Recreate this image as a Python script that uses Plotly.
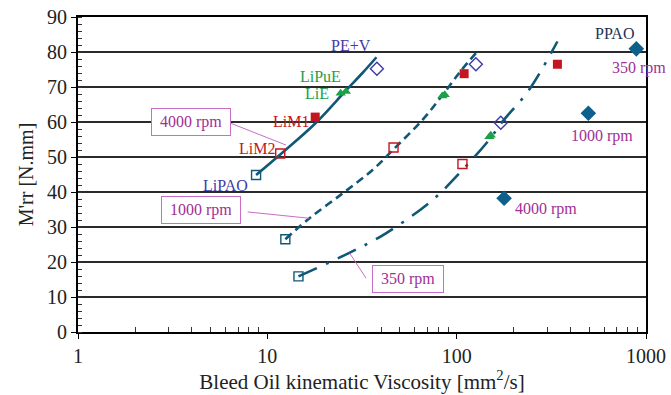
import math
import plotly.graph_objects as go

# ---- data ----
# curves: (viscosity, M'rr) along each fitted line
c4000_x = [8.72, 12.04, 18.07, 26.0, 31.8, 37.7]
c4000_y = [44.85, 51.3, 59.8, 69.0, 74.0, 78.5]
c1000_x = [12.45, 16.65, 24.97, 35.95, 47.8, 66.0, 84.2, 103.1, 126.3]
c1000_y = [26.5, 32.45, 39.6, 46.3, 52.9, 60.6, 67.7, 74.0, 79.7]
c350_x = [14.6, 27.1, 42.3, 74.5, 107.3, 148.4, 174.4, 241.3, 340.4]
c350_y = [15.9, 22.6, 28.2, 37.7, 46.3, 54.9, 60.1, 69.2, 83.0]

# measured points per oil: order 4000, 1000, 350 rpm
lipao_x = [8.72, 12.45, 14.6];  lipao_y = [44.85, 26.5, 15.9]
lim2_x = [11.7, 46.4, 107.3];   lim2_y = [51.0, 52.7, 48.0]
lim1_x = [17.9, 109.5, 340.5];  lim1_y = [61.4, 73.8, 76.5]
lie_x = [24.4, 84.0, 149.0];    lie_y = [68.2, 67.4, 55.8]
lipue_x = [26.0, 86.5, 151.5];  lipue_y = [68.7, 67.8, 56.2]
pev_x = [37.9, 126.3, 171.0];   pev_y = [75.2, 76.5, 59.8]
ppao_x = [178.0, 496.0, 889.0]; ppao_y = [38.2, 62.5, 80.9]

x_ticks = [1, 10, 100, 1000]
x_minor = [m * d for d in (1, 10, 100) for m in range(2, 10)]

TEAL = "rgb(16,88,118)"
DIAM = "rgb(14,96,140)"
RED = "rgb(196,22,32)"
GREEN = "rgb(28,160,72)"
PURP = "rgb(62,58,168)"
MAG = "rgb(160,48,150)"
MAGBOX = "rgb(200,110,200)"
FONT = "Liberation Serif"

fig = go.Figure()
fig.add_trace(go.Scatter(x=c4000_x, y=c4000_y, mode="lines", line=dict(color=TEAL, width=2.6, shape="spline")))
fig.add_trace(go.Scatter(x=c1000_x, y=c1000_y, mode="lines", line=dict(color=TEAL, width=2.6, shape="spline", dash="8px,5px")))
fig.add_trace(go.Scatter(x=c350_x, y=c350_y, mode="lines", line=dict(color=TEAL, width=2.6, shape="spline", dash="20px,10px,3px,10px")))

def pts(x, y, symbol, color, size, lw=1.4):
    fig.add_trace(go.Scatter(x=x, y=y, mode="markers",
                             marker=dict(symbol=symbol, color=color, size=size,
                                         line=dict(color=color, width=lw))))

pts(lipao_x, lipao_y, "square-open", TEAL, 9)
pts(lim2_x, lim2_y, "square-open", RED, 9)
pts(lim1_x, lim1_y, "square", RED, 9, 0)
pts(lie_x, lie_y, "triangle-up", GREEN, 9, 0)
pts(lipue_x, lipue_y, "triangle-up", GREEN, 9, 0)
pts(pev_x, pev_y, "diamond-open", PURP, 10)
pts(ppao_x, ppao_y, "diamond", DIAM, 12, 0)

lg = math.log10

labels = [
    ("LiPAO", 6.0, 42.0, PURP), ("LiM2", 8.8, 52.5, RED), ("LiM1", 13.34, 60.1, RED),
    ("LiE", 18.25, 68.2, GREEN), ("LiPuE", 19.04, 73.0, GREEN), ("PE+V", 27.8, 81.8, PURP),
    ("PPAO", 678, 85.2, "rgb(28,50,84)"),
    ("350 rpm", 918, 75.4, MAG), ("1000 rpm", 586, 56.0, MAG), ("4000 rpm", 295, 35.1, MAG),
]
for t, x, y, c in labels:
    fig.add_annotation(x=lg(x), y=y, xref="x", yref="y", text=t, showarrow=False,
                       font=dict(family=FONT, size=16, color=c))

boxes = [
    ("4000 rpm", 3.95, 60.0, (6.30, 59.8), (12.56, 53.4)),
    ("1000 rpm", 4.47, 34.8, (7.87, 34.3), (16.66, 32.5)),
    ("350 rpm", 55.5, 15.1, (33.2, 15.4), (27.3, 22.4)),
]
for t, x, y, p0, p1 in boxes:
    fig.add_shape(type="line", xref="x", yref="y", x0=p0[0], y0=p0[1], x1=p1[0], y1=p1[1],
                  line=dict(color=MAGBOX, width=1))
    fig.add_annotation(x=lg(x), y=y, xref="x", yref="y", text="&nbsp;" + t + "&nbsp;", showarrow=False,
                       font=dict(family=FONT, size=16, color=MAG),
                       bordercolor=MAGBOX, borderwidth=1, borderpad=4, bgcolor="white")

fig.update_layout(
    width=671, height=395, showlegend=False,
    margin=dict(l=78, r=25, t=17, b=63),
    paper_bgcolor="white", plot_bgcolor="white",
    font=dict(family=FONT, size=20, color="#222"),
)
fig.update_xaxes(type="log", range=[0, 3], tickvals=x_ticks, ticktext=[str(v) for v in x_ticks],
                 automargin=False,
                 showgrid=False, showline=True, linecolor="black", linewidth=2, mirror=True,
                 ticks="outside", ticklen=5, tickcolor="black", tickwidth=1,
                 minor=dict(tickvals=x_minor, ticks="inside", ticklen=5, tickcolor="#333", tickwidth=1, showgrid=False),
                 tickfont=dict(size=20), zeroline=False,
                 title=dict(text="Bleed Oil kinematic Viscosity [mm<sup>2</sup>/s]", font=dict(size=21), standoff=6))
fig.update_yaxes(range=[0, 90], dtick=10, showgrid=True, gridcolor="#2a2a2a", gridwidth=1.6,
                 automargin=False,
                 showline=True, linecolor="black", linewidth=2, mirror=True,
                 ticks="outside", ticklen=5, tickcolor="black", tickwidth=1,
                 minor=dict(dtick=2, ticks="inside", ticklen=4, tickcolor="#333", tickwidth=1, showgrid=False),
                 tickfont=dict(size=20), zeroline=False,
                 title=dict(text="M'rr [N.mm]", font=dict(size=20), standoff=8))

fig.write_html("out.html")
